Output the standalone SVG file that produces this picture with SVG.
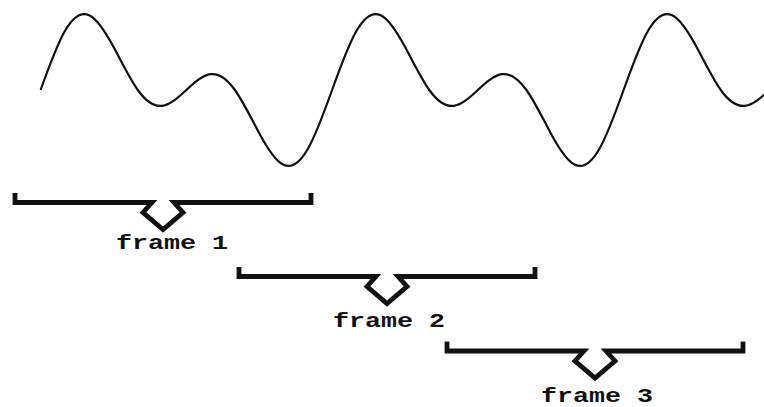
<svg xmlns="http://www.w3.org/2000/svg" xmlns:xlink="http://www.w3.org/1999/xlink" width="764" height="407" viewBox="0 0 764 407">
<style>
.wave{fill:none;stroke:#111;stroke-width:2.2;stroke-linejoin:round}
.br{fill:none;stroke:#111;stroke-width:4.8;stroke-linejoin:miter;stroke-miterlimit:6;stroke-linecap:butt}
.lbl{font-family:"Liberation Mono","Courier New",monospace;font-weight:bold;font-size:21px;fill:#111}
</style>
<defs>
<path id="period" d="M40.6,90 C48.7,67.38 56.79,45.06 64.89,30.99 C72.99,16.92 81.08,11.41 89.18,15.18 C97.28,18.95 105.37,31.72 113.47,46.8 C121.57,61.88 129.67,78.69 137.77,90 C145.87,101.31 153.96,106.82 162.06,105.81 C170.16,104.8 178.25,97.54 186.35,90 C194.45,82.46 202.54,75.2 210.64,74.19 C218.74,73.18 226.83,78.69 234.93,90 C243.03,101.31 251.12,118.12 259.22,133.2 C267.32,148.28 275.41,161.05 283.51,164.82 C291.61,168.59 299.7,163.08 307.8,149.01 C315.9,134.94 324,112.62 332.1,90"/>
<path id="bracket" d="M-148,-9.5 V0 H-11 L-20,10 L0,27 L20,10 L11,0 H148 V-9.5"/>
</defs>
<g id="signal">
<use xlink:href="#period" href="#period" class="wave"/>
<use xlink:href="#period" href="#period" class="wave" transform="translate(291.5,0)"/>
<use xlink:href="#period" href="#period" class="wave" transform="translate(583,0)"/>
</g>
<g id="frame1">
<use xlink:href="#bracket" href="#bracket" class="br" transform="translate(163,202.5)"/>
<text class="lbl" x="116" y="249" textLength="112" lengthAdjust="spacingAndGlyphs">frame 1</text>
</g>
<g id="frame2">
<use xlink:href="#bracket" href="#bracket" class="br" transform="translate(387,276.5)"/>
<text class="lbl" x="333" y="327" textLength="112" lengthAdjust="spacingAndGlyphs">frame 2</text>
</g>
<g id="frame3">
<use xlink:href="#bracket" href="#bracket" class="br" transform="translate(595,351)"/>
<text class="lbl" x="541" y="402" textLength="112" lengthAdjust="spacingAndGlyphs">frame 3</text>
</g>
</svg>
